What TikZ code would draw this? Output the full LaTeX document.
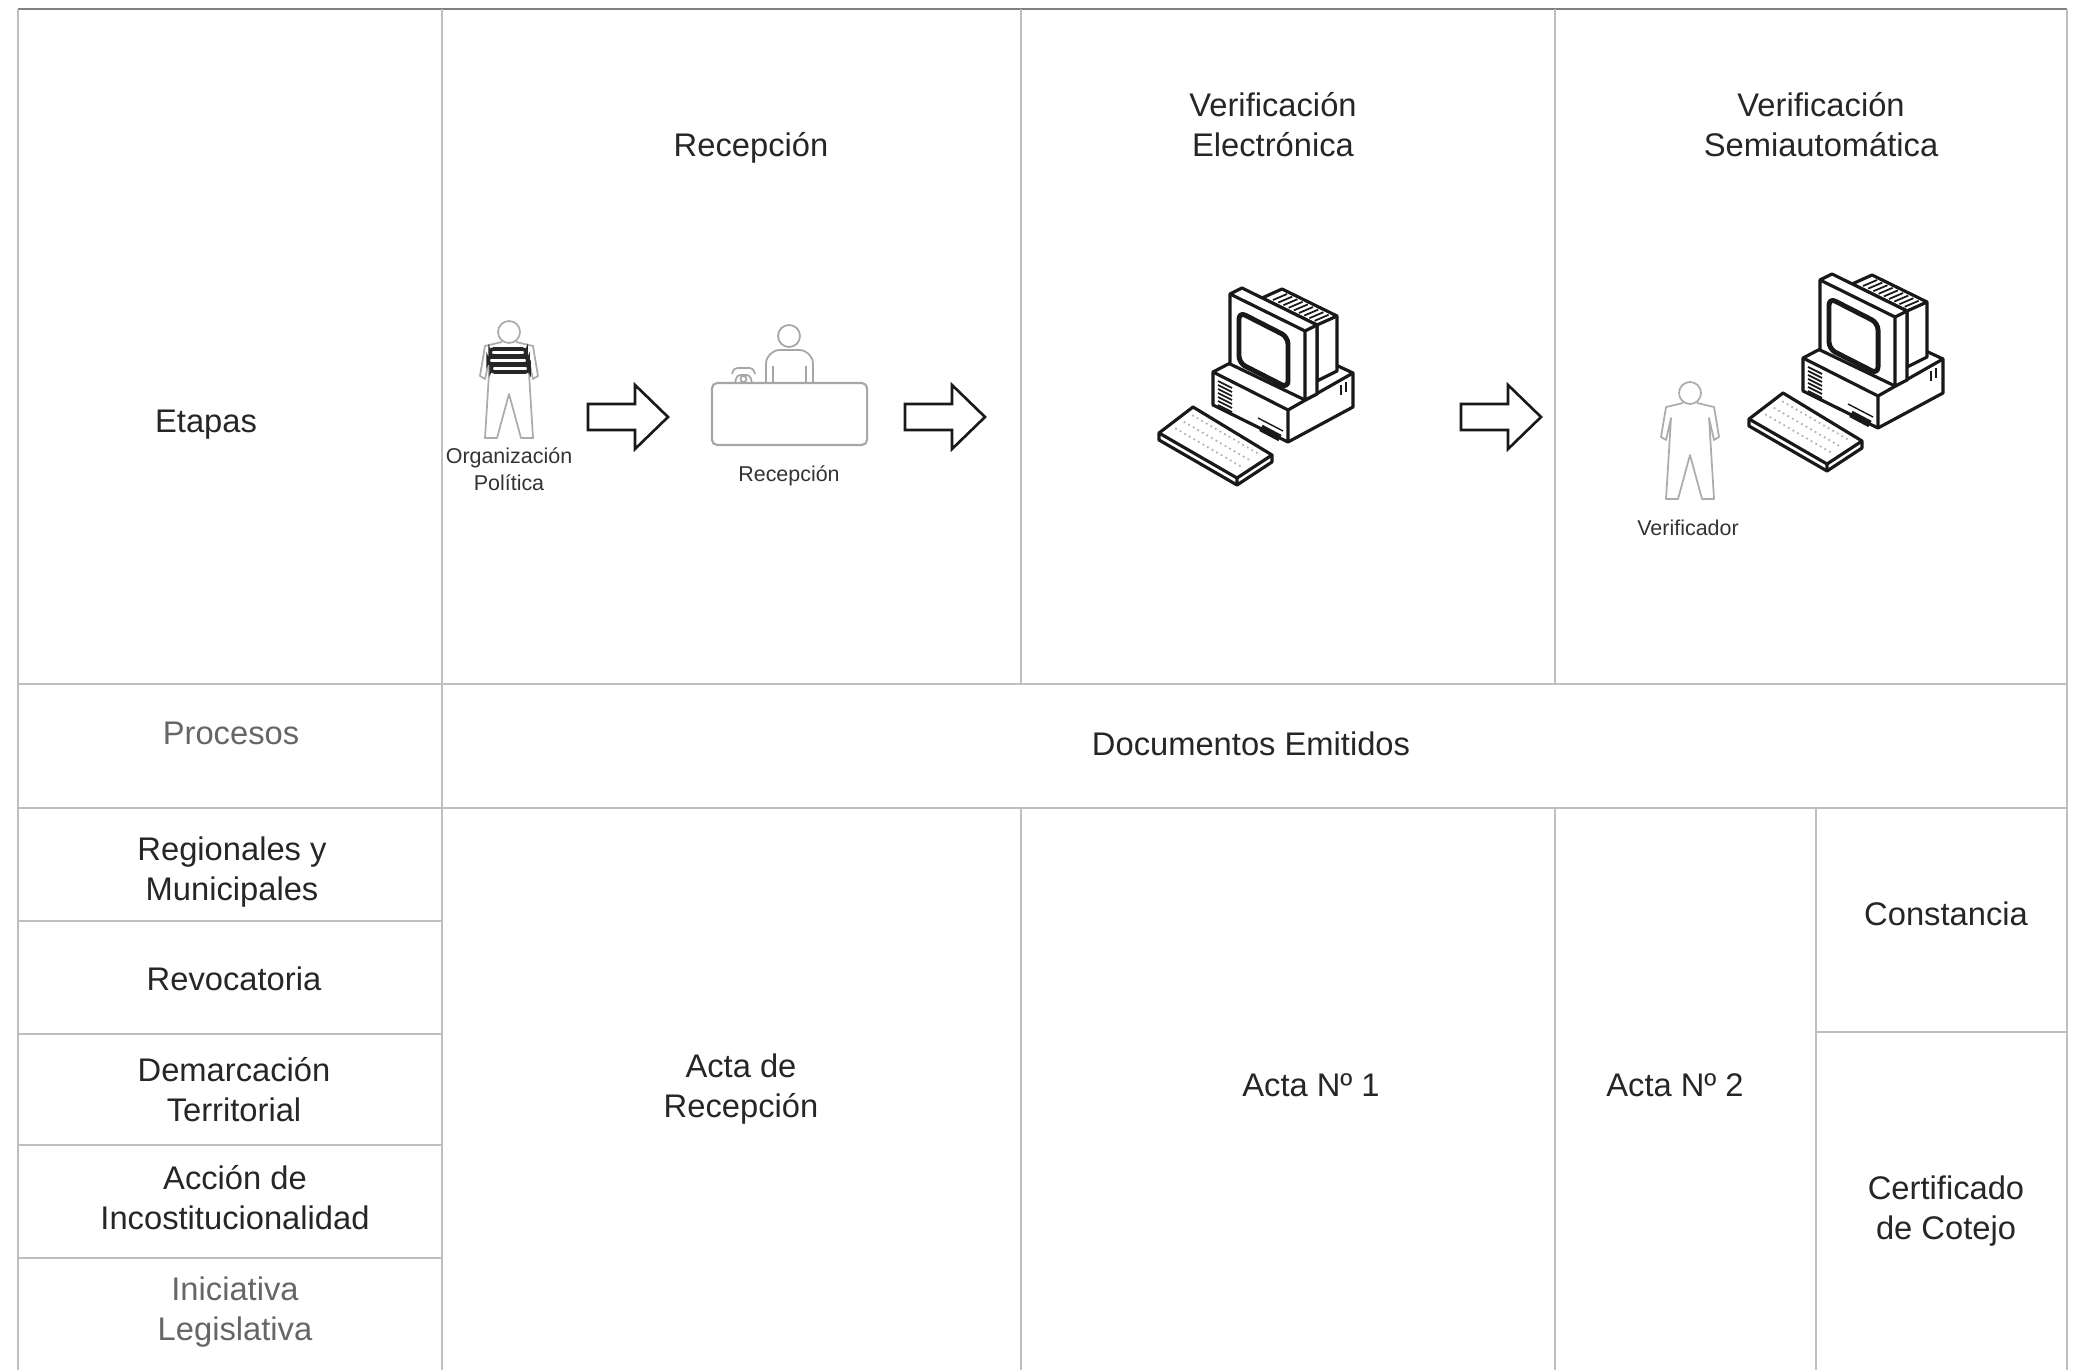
\documentclass[tikz,border=0pt]{standalone}
\usepackage{fontspec}
\setmainfont{Liberation Sans}

\tikzset{
  % stick figure, head centre at the origin, feet 106 below
  person/.pic = {
    \draw[gray!65, line width=0.5pt, line join=round] (0,0) circle[radius=11]
      (-7,10) -- (-24,14) -- (-29,44) -- (-24,47) -- (-19,25) -- (-24,106)
      -- (-12,106) -- (0,62) -- (12,106) -- (24,106) -- (19,25) -- (24,47)
      -- (29,44) -- (24,14) -- (7,10);
  },
  bookstack/.pic = {
    \foreach \l/\r/\t in {-19/17/17, -21/19/25, -18/20/33}
      \filldraw[fill=white, draw=black!85, line width=1pt, rounded corners=1pt]
        (\l,\t) rectangle (\r,\t+7);
  },
  blockarrow/.pic = {
    \draw[line width=0.75pt, line join=miter, black!90]
      (0,-13) -- (47,-13) -- (47,-32) -- (80,0) -- (47,32) -- (47,13) -- (0,13) -- cycle;
  },
  computer/.pic = {
    \begin{scope}[line width=0.9pt, line join=round, draw=black!90]
      % base unit
      \filldraw[fill=white] (73,112) -- (138,78) -- (213,113) -- (213,147)
        -- (148,182) -- (73,145) -- cycle;
      \draw (73,112) -- (148,150) -- (213,113) (148,150) -- (148,182);
      \foreach \i in {0,...,6}
        \draw[line width=0.5pt] (78,{121+4*\i}) -- (92,{128+4*\i});
      \draw[line width=0.4pt] (118,158) -- (143,171);
      \draw[line width=2pt] (121,168) -- (140,178);
      \draw[line width=0.5pt] (201,125) -- (201,135) (206,122) -- (206,132);
      % tube housing
      \filldraw[fill=white] (122,38) -- (142,29) -- (197,56) -- (197,111)
        -- (177,121) -- (177,65) -- cycle;
      \draw (177,65) -- (197,56);
      \foreach \i in {0,...,8}
        \draw[line width=0.5pt] ({133+5.2*\i},{40+2.6*\i}) -- ++(14,-6);
      % monitor
      \filldraw[fill=white] (90,34) -- (102,28) -- (177,65) -- (177,134)
        -- (165,140) -- (90,104) -- cycle;
      \draw (90,34) -- (165,71) -- (177,65) (165,71) -- (165,140);
      \draw[line width=1.4pt, rounded corners=2pt]
        (99,52) -- (148,77) -- (148,128) -- (99,103) -- cycle;
      % keyboard
      \filldraw[fill=white] (19,173) -- (53,147) -- (132,195) -- (132,202)
        -- (97,225) -- (19,180) -- cycle;
      \draw (19,173) -- (97,218) -- (132,195) (97,218) -- (97,225);
      \foreach \t in {0.3,0.55,0.8}
        \draw[gray!60, line width=0.5pt, densely dotted]
          ({25+34*\t},{176-26*\t}) -- ({92+34*\t},{215-26*\t});
    \end{scope}
  }
}

\begin{document}
\begin{tikzpicture}[
    x = 0.01cm, y = -0.01cm,
    cell/.style = {draw = black!25, line width = 0.6pt},
    txt/.style = {font = \fontsize{9.3}{11.4}\selectfont, text = black!85,
                  align = center, inner sep = 0pt},
    greytxt/.style = {txt, text = black!60},
    smalltxt/.style = {font = \fontsize{6.1}{7.6}\selectfont, text = black!80,
                       align = center, inner sep = 0pt},
  ]
  \useasboundingbox (0,0) rectangle (2083,1370);

  % table
  \draw[cell, draw = black!50] (18,9) -- (2067,9);
  \foreach \x in {18,442,2067}
    \draw[cell] (\x,9) -- (\x,1370);
  \foreach \x in {1021,1555} {
    \draw[cell] (\x,9) -- (\x,684);
    \draw[cell] (\x,808) -- (\x,1370);
  }
  \draw[cell] (1816,808) -- (1816,1370);
  \foreach \y in {684,808}
    \draw[cell] (18,\y) -- (2067,\y);
  \foreach \y in {921,1034,1145,1258}
    \draw[cell] (18,\y) -- (442,\y);
  \draw[cell] (1816,1032) -- (2067,1032);

  % stages
  \node[txt] (etapas) at (206,425) {Etapas};
  \node[txt] (recepcion) at (751,148) {Recepción};
  \node[txt] (electronica) at (1273,125) {Verificación\\Electrónica};
  \node[txt] (semiauto) at (1821,125) {Verificación\\Semiautomática};

  % reception
  \pic (orgperson) at (509,332) {person};
  \pic (books) at (509,332) {bookstack};
  \node[smalltxt] (org label) at (509,469) {Organización\\Política};

  \draw[gray!70, line width=0.5pt] (789,336) circle[radius=11];
  \draw[gray!70, line width=0.5pt, rounded corners=4pt]
    (766,383) -- (766,350) -- (813,350) -- (813,383);
  \draw[gray!70, line width=0.5pt] (773,366) -- (773,383) (806,366) -- (806,383);
  \draw[gray!70, line width=0.5pt, rounded corners=1pt]
    (735,383) -- (737,375) -- (750,375) -- (752,383)
    (732,374) -- (734,368) -- (753,368) -- (755,374);
  \draw[gray!70, line width=0.5pt] (743.5,379) circle[radius=3];
  \node[draw = gray!70, line width = 0.6pt, rounded corners = 1.5pt,
        minimum width = 1.55cm, minimum height = 0.62cm, inner sep = 0pt]
    (desk) at (789.5,414) {};
  \node[smalltxt] (desk label) at (789,476) {Recepción};

  \foreach \x/\n in {588/1, 905/2, 1461/3}
    \pic (arrow\n) at (\x,417) {blockarrow};

  % verification
  \pic (pc1) at (1140,260) {computer};
  \pic (verifier) at (1690,393) {person};
  \pic (pc2) at (1730,246) {computer};
  \node[smalltxt] (verif label) at (1688,528) {Verificador};

  % documents
  \node[greytxt] (procesos) at (231,733) {Procesos};
  \node[txt] (docs) at (1251,744) {Documentos Emitidos};
  \node[txt] (regionales) at (232,872) {Regionales y\\Municipales};
  \node[txt] (revocatoria) at (234,979) {Revocatoria};
  \node[txt] (demarcacion) at (234,1090) {Demarcación\\Territorial};
  \node[txt] (accion) at (235,1198) {Acción de\\Incostitucionalidad};
  \node[greytxt] (iniciativa) at (235,1312) {Iniciativa\\Legislativa};

  \node[txt] (acta rec) at (741,1089) {Acta de\\Recepción};
  \node[txt] (acta1) at (1311,1085) {Acta Nº 1};
  \node[txt] (acta2) at (1675,1085) {Acta Nº 2};
  \node[txt] (constancia) at (1946,914) {Constancia};
  \node[txt] (cotejo) at (1946,1211) {Certificado\\de Cotejo};
\end{tikzpicture}
\end{document}
